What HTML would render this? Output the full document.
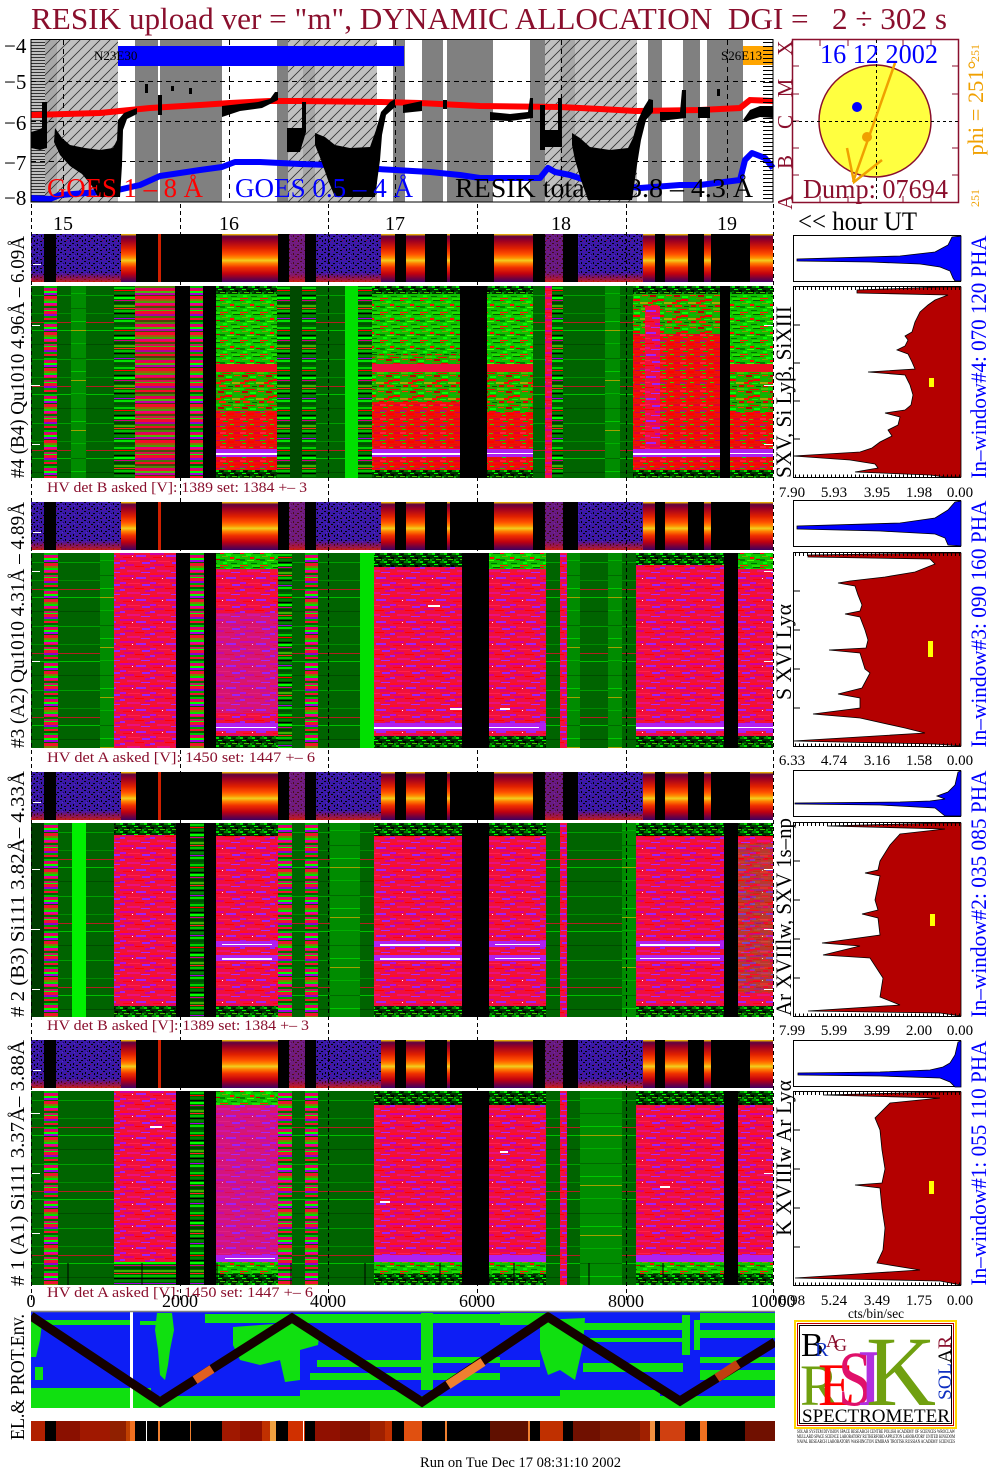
<!DOCTYPE html>
<html><head><meta charset="utf-8"><style>
html,body{margin:0;padding:0;background:#fff;}
svg{display:block;}
text{font-family:"Liberation Serif","DejaVu Serif",serif;}
</style></head><body>
<svg xmlns="http://www.w3.org/2000/svg" width="1004" height="1477" viewBox="0 0 1004 1477">
<defs>
<pattern id="hd" width="10" height="10" patternUnits="userSpaceOnUse"><path d="M0,10 L10,0 M-2,2 L2,-2 M8,12 L12,8" stroke="#333" stroke-width="0.8"/></pattern>
<pattern id="hh" width="4" height="3" patternUnits="userSpaceOnUse"><rect width="4" height="3" fill="#c0c0c0"/><rect width="4" height="1" fill="#333"/></pattern>
<pattern id="pn" width="12" height="9" patternUnits="userSpaceOnUse"><rect width="12" height="9" fill="#3a1aa8"/><rect x="0" y="0" width="2" height="1" fill="#000"/><rect x="5" y="1" width="1" height="2" fill="#000"/><rect x="9" y="2" width="2" height="1" fill="#000"/><rect x="2" y="3" width="1" height="1" fill="#5a20d8"/><rect x="7" y="4" width="2" height="1" fill="#000"/><rect x="1" y="5" width="1" height="2" fill="#000"/><rect x="10" y="6" width="1" height="2" fill="#000"/><rect x="4" y="7" width="2" height="1" fill="#000"/><rect x="8" y="8" width="1" height="1" fill="#700090"/><rect x="3" y="2" width="1" height="1" fill="#200060"/><rect x="6" y="6" width="1" height="1" fill="#900040"/></pattern>
<linearGradient id="po" x1="0" y1="0" x2="0" y2="1"><stop offset="0" stop-color="#ffd000"/><stop offset="0.05" stop-color="#600040"/><stop offset="0.15" stop-color="#a00020"/><stop offset="0.3" stop-color="#e02000"/><stop offset="0.42" stop-color="#ff5000"/><stop offset="0.5" stop-color="#ff9000"/><stop offset="0.55" stop-color="#f0d020"/><stop offset="0.61" stop-color="#ff8000"/><stop offset="0.7" stop-color="#f03000"/><stop offset="0.83" stop-color="#c00010"/><stop offset="0.93" stop-color="#700040"/><stop offset="1" stop-color="#400060"/></linearGradient>
<linearGradient id="pnb" x1="0" y1="0" x2="0" y2="1"><stop offset="0" stop-color="#c00030" stop-opacity="0"/><stop offset="1" stop-color="#e02000" stop-opacity="0.85"/></linearGradient>
<pattern id="pdg" width="14" height="64" patternUnits="userSpaceOnUse"><rect width="14" height="64" fill="#006400"/><rect y="9" width="14" height="1" fill="#00a000"/><rect y="27" width="14" height="1" fill="#008c00"/><rect y="36" width="14" height="1" fill="#b02020"/><rect y="44" width="14" height="1" fill="#00c000"/><rect y="58" width="14" height="1" fill="#004c00"/></pattern>
<pattern id="pg" width="14" height="50" patternUnits="userSpaceOnUse"><rect width="14" height="50" fill="#008c00"/><rect y="7" width="14" height="1" fill="#00b000"/><rect y="22" width="14" height="1" fill="#006a00"/><rect y="35" width="14" height="1" fill="#00c800"/><rect y="44" width="14" height="1" fill="#a0a000"/></pattern>
<pattern id="pmg" width="14" height="40" patternUnits="userSpaceOnUse"><rect width="14" height="40" fill="#006000"/><rect y="1" width="14" height="2" fill="#00d000"/><rect y="4" width="14" height="1" fill="#ff0000"/><rect y="6" width="14" height="2" fill="#008000"/><rect y="9" width="14" height="1" fill="#000"/><rect y="11" width="14" height="2" fill="#00ff00"/><rect y="14" width="14" height="1" fill="#d00080"/><rect y="16" width="14" height="2" fill="#004000"/><rect y="19" width="14" height="2" fill="#40b000"/><rect y="22" width="14" height="1" fill="#ff2020"/><rect y="24" width="14" height="2" fill="#00c000"/><rect y="27" width="14" height="1" fill="#000"/><rect y="29" width="14" height="2" fill="#008800"/><rect y="32" width="14" height="1" fill="#a000e0"/><rect y="34" width="14" height="2" fill="#00e000"/><rect y="37" width="14" height="2" fill="#005000"/></pattern>
<pattern id="pmx" width="14" height="36" patternUnits="userSpaceOnUse"><rect width="14" height="36" fill="#f01030"/><rect y="0" width="14" height="2" fill="#00c000"/><rect y="2" width="14" height="2" fill="#d00080"/><rect y="5" width="14" height="2" fill="#00ff00"/><rect y="7" width="14" height="2" fill="#a000e0"/><rect y="9" width="14" height="1" fill="#006000"/><rect y="13" width="14" height="2" fill="#808000"/><rect y="15" width="14" height="2" fill="#00e000"/><rect y="17" width="14" height="2" fill="#e000a0"/><rect y="20" width="14" height="2" fill="#007000"/><rect y="22" width="14" height="2" fill="#c02060"/><rect y="24" width="14" height="1" fill="#00ff00"/><rect y="28" width="14" height="2" fill="#9000d0"/><rect y="30" width="14" height="2" fill="#00a000"/><rect y="34" width="14" height="2" fill="#006000"/></pattern>
<pattern id="prm" width="30" height="22" patternUnits="userSpaceOnUse"><rect width="30" height="22" fill="#f0103c"/><rect x="0" y="0" width="14" height="2" fill="#d000a0"/><rect x="16" y="2" width="10" height="2" fill="#a020f8"/><rect x="3" y="4" width="8" height="1" fill="#ff0010"/><rect x="20" y="5" width="10" height="2" fill="#e00070"/><rect x="0" y="7" width="6" height="2" fill="#b010e0"/><rect x="8" y="8" width="12" height="1" fill="#ff2050"/><rect x="22" y="9" width="8" height="2" fill="#9820ff"/><rect x="4" y="11" width="10" height="2" fill="#d00090"/><rect x="15" y="13" width="9" height="1" fill="#ff0000"/><rect x="0" y="14" width="5" height="2" fill="#a020f0"/><rect x="25" y="15" width="5" height="2" fill="#c000b0"/><rect x="7" y="17" width="13" height="2" fill="#e81080"/><rect x="21" y="19" width="9" height="1" fill="#a828ff"/><rect x="0" y="20" width="8" height="2" fill="#ff1020"/><rect x="12" y="3" width="1" height="1" fill="#fff"/></pattern>
<pattern id="pgr" width="24" height="16" patternUnits="userSpaceOnUse"><rect width="24" height="16" fill="#20a800"/><rect x="0" y="0" width="5" height="2" fill="#ff1000"/><rect x="8" y="1" width="6" height="1" fill="#00ff00"/><rect x="16" y="0" width="8" height="2" fill="#b0a000"/><rect x="3" y="3" width="7" height="2" fill="#ff2000"/><rect x="12" y="4" width="5" height="1" fill="#006000"/><rect x="19" y="3" width="5" height="2" fill="#e00000"/><rect x="0" y="6" width="4" height="2" fill="#00e000"/><rect x="6" y="7" width="9" height="1" fill="#ff0000"/><rect x="17" y="6" width="7" height="2" fill="#50c000"/><rect x="2" y="9" width="6" height="2" fill="#c00000"/><rect x="10" y="10" width="6" height="2" fill="#00ff00"/><rect x="18" y="9" width="6" height="1" fill="#ff3000"/><rect x="0" y="12" width="8" height="1" fill="#807000"/><rect x="9" y="13" width="7" height="2" fill="#ff0000"/><rect x="18" y="12" width="6" height="2" fill="#00c000"/><rect x="4" y="14" width="5" height="2" fill="#e01000"/></pattern>
<pattern id="pgg" width="20" height="14" patternUnits="userSpaceOnUse"><rect width="20" height="14" fill="#10c000"/><rect x="0" y="0" width="4" height="1" fill="#ff0000"/><rect x="6" y="1" width="5" height="2" fill="#00ff00"/><rect x="13" y="0" width="7" height="1" fill="#006000"/><rect x="2" y="3" width="6" height="1" fill="#80a000"/><rect x="10" y="4" width="4" height="2" fill="#ff1000"/><rect x="15" y="3" width="5" height="2" fill="#00e000"/><rect x="0" y="6" width="5" height="2" fill="#008000"/><rect x="7" y="7" width="7" height="1" fill="#40ff00"/><rect x="16" y="6" width="4" height="1" fill="#c00000"/><rect x="3" y="9" width="4" height="2" fill="#00ff00"/><rect x="11" y="10" width="6" height="1" fill="#007000"/><rect x="0" y="12" width="8" height="1" fill="#ff2000"/><rect x="12" y="12" width="8" height="2" fill="#20e000"/></pattern>
<pattern id="prr" width="20" height="14" patternUnits="userSpaceOnUse"><rect width="20" height="14" fill="#f01008"/><rect x="0" y="0" width="5" height="1" fill="#20c000"/><rect x="8" y="1" width="6" height="2" fill="#ff0000"/><rect x="15" y="0" width="5" height="1" fill="#c00060"/><rect x="2" y="3" width="4" height="1" fill="#00e000"/><rect x="10" y="4" width="7" height="1" fill="#d02000"/><rect x="0" y="6" width="6" height="2" fill="#ff2040"/><rect x="9" y="7" width="4" height="1" fill="#60b000"/><rect x="14" y="6" width="6" height="2" fill="#e00030"/><rect x="3" y="9" width="5" height="1" fill="#00c000"/><rect x="12" y="10" width="8" height="1" fill="#ff0000"/><rect x="0" y="12" width="7" height="2" fill="#c01060"/><rect x="10" y="12" width="4" height="1" fill="#30d000"/></pattern>
<pattern id="pgk" width="12" height="8" patternUnits="userSpaceOnUse"><rect width="12" height="8" fill="#003000"/><rect x="0" y="0" width="3" height="2" fill="#00e000"/><rect x="5" y="1" width="2" height="1" fill="#000"/><rect x="8" y="0" width="4" height="2" fill="#008000"/><rect x="2" y="3" width="4" height="1" fill="#00ff00"/><rect x="7" y="4" width="3" height="2" fill="#000"/><rect x="0" y="5" width="2" height="2" fill="#006000"/><rect x="4" y="6" width="5" height="1" fill="#40c000"/><rect x="10" y="6" width="2" height="2" fill="#00a000"/></pattern>
<clipPath id="elc"><rect x="31" y="1312" width="744" height="96"/></clipPath>

<g id="strip">
<rect x="31" y="0" width="742" height="48" fill="#000"/>
<rect x="31" y="0" width="13" height="48" fill="url(#pn)"/>
<rect x="56" y="0" width="65" height="48" fill="url(#pn)"/>
<rect x="289" y="0" width="16" height="48" fill="url(#pn)"/>
<rect x="316" y="0" width="65" height="48" fill="url(#pn)"/>
<rect x="545" y="0" width="18" height="48" fill="url(#pn)"/>
<rect x="578" y="0" width="65" height="48" fill="url(#pn)"/>
<rect x="289" y="0" width="16" height="48" fill="#c02040" opacity="0.4"/>
<rect x="545" y="0" width="18" height="48" fill="#c02040" opacity="0.35"/>
<rect x="31" y="38" width="13" height="10" fill="url(#pnb)"/>
<rect x="56" y="38" width="65" height="10" fill="url(#pnb)"/>
<rect x="289" y="38" width="16" height="10" fill="url(#pnb)"/>
<rect x="316" y="38" width="65" height="10" fill="url(#pnb)"/>
<rect x="545" y="38" width="18" height="10" fill="url(#pnb)"/>
<rect x="578" y="38" width="65" height="10" fill="url(#pnb)"/>
<rect x="121" y="0" width="15" height="48" fill="url(#po)"/>
<rect x="158" y="0" width="3" height="48" fill="#d02000"/>
<rect x="222" y="0" width="56" height="48" fill="url(#po)"/>
<rect x="381" y="0" width="14" height="48" fill="url(#po)"/>
<rect x="406" y="0" width="19" height="48" fill="url(#po)"/>
<rect x="447" y="0" width="3" height="48" fill="url(#po)"/>
<rect x="494" y="0" width="39" height="48" fill="url(#po)"/>
<rect x="643" y="0" width="12" height="48" fill="url(#po)"/>
<rect x="665" y="0" width="23" height="48" fill="url(#po)"/>
<rect x="704" y="0" width="7" height="48" fill="url(#po)"/>
<rect x="750" y="0" width="23" height="48" fill="url(#po)"/>
<rect x="33" y="30" width="8" height="1" fill="#fff"/>
</g>
</defs>

<rect width="1004" height="1477" fill="#fff"/>

<!-- TITLE -->
<text x="31" y="29" font-size="31" fill="#8a0f2d" textLength="916" lengthAdjust="spacingAndGlyphs" style="white-space:pre">RESIK upload ver = "m", DYNAMIC ALLOCATION  DGI =   2 ÷ 302 s</text>

<!-- GOES PANEL -->
<g>
<rect x="31" y="40" width="14" height="162" fill="url(#hh)"/>
<rect x="45" y="40" width="12" height="162" fill="#a8a8a8"/>
<rect x="57" y="40" width="61" height="162" fill="#c0c0c0"/>
<rect x="135" y="40" width="23" height="162" fill="#808080"/>
<rect x="160" y="40" width="62" height="162" fill="#808080"/>
<rect x="277" y="40" width="11" height="162" fill="#808080"/>
<rect x="288" y="40" width="15" height="162" fill="#c0c0c0"/>
<rect x="303" y="40" width="12" height="162" fill="#a8a8a8"/>
<rect x="315" y="40" width="62" height="162" fill="#c0c0c0"/>
<rect x="393" y="40" width="12" height="162" fill="#808080"/>
<rect x="422" y="40" width="21" height="162" fill="#808080"/>
<rect x="447" y="40" width="46" height="162" fill="#808080"/>
<rect x="530" y="40" width="15" height="162" fill="#808080"/>
<rect x="545" y="40" width="15" height="162" fill="#c0c0c0"/>
<rect x="560" y="40" width="15" height="162" fill="#a8a8a8"/>
<rect x="575" y="40" width="62" height="162" fill="#c0c0c0"/>
<rect x="648" y="40" width="14" height="162" fill="#808080"/>
<rect x="683" y="40" width="17" height="162" fill="#808080"/>
<rect x="707" y="40" width="36" height="162" fill="#808080"/>
<rect x="45" y="40" width="73" height="162" fill="url(#hd)"/>
<rect x="288" y="40" width="89" height="162" fill="url(#hd)"/>
<rect x="545" y="40" width="92" height="162" fill="url(#hd)"/>
<g stroke="#000" stroke-width="1" stroke-dasharray="5,4" fill="none">
<line x1="31" y1="81.5" x2="773" y2="81.5"/><line x1="31" y1="121.5" x2="773" y2="121.5"/><line x1="31" y1="161.5" x2="773" y2="161.5"/>
<line x1="63.5" y1="40" x2="63.5" y2="202"/><line x1="229.5" y1="40" x2="229.5" y2="202"/><line x1="395.5" y1="40" x2="395.5" y2="202"/><line x1="561.5" y1="40" x2="561.5" y2="202"/><line x1="727.5" y1="40" x2="727.5" y2="202"/>
</g>
<rect x="118" y="46" width="286" height="20" fill="#0000ff"/>
<text x="94" y="60" font-size="13" fill="#000">N23E30</text>
<rect x="743" y="46" width="30" height="19" fill="#ffa500"/>
<text x="721" y="60" font-size="13" fill="#000">S26E13</text>
<polyline fill="none" stroke="#ff0000" stroke-width="6" points="31,115 100,113 150,108 200,105 230,103 270,101 300,101 380,102 420,103 480,106 560,107 600,109 637,111 700,110 740,108 750,100 773,101"/>
<polyline fill="none" stroke="#0000ff" stroke-width="6" stroke-linejoin="round" points="31,198 50,199 60,195 100,192 118,190 140,185 160,176 200,170 222,167 235,162 260,162 300,164 330,165 360,168 395,170 430,172 460,175 480,178 540,178 548,168 555,172 570,175 600,185 620,185 640,188 680,185 700,185 740,180 745,160 752,153 765,158 773,168"/>
<g fill="#000">
<polygon points="31,132 38,130 42,128 42,102 47,102 47,148 40,150 31,148"/>
<polygon points="55,128 62,138 70,145 85,148 100,150 113,148 117,140 118,120 124,113 137,108 137,114 127,119 123,130 122,165 120,197 98,197 92,186 82,174 70,166 60,155 54,142"/>
<rect x="145" y="84" width="3" height="9"/><rect x="171" y="86" width="3" height="5"/><rect x="189" y="88" width="3" height="6"/><rect x="158" y="95" width="4" height="20"/>
<polygon points="222,106 240,104 258,102 270,99 275,92 278,92 278,100 262,108 240,111 222,117"/>
<polygon points="287,128 302,128 302,102 306,102 306,132 300,152 287,152"/>
<polygon points="315,133 325,137 335,145 350,148 370,147 376,130 381,112 390,102 395,99 395,107 386,115 382,135 380,160 375,197 335,197 328,180 321,160 315,145"/>
<polygon points="403,105 422,101 422,111 403,113"/><rect x="443" y="100" width="4" height="9"/>
<polygon points="490,112 510,114 528,112 530,98 533,98 533,118 510,121 490,120"/>
<rect x="540" y="105" width="5" height="45"/>
<polygon points="545,130 558,130 558,98 562,98 562,147 545,147"/>
<polygon points="572,133 580,138 590,147 610,150 628,148 633,138 638,120 644,107 649,99 653,100 653,112 646,120 641,140 637,165 632,200 588,200 581,180 575,160 572,145"/>
<polygon points="660,112 680,112 682,90 686,90 686,118 660,121"/>
<rect x="698" y="107" width="12" height="11"/><rect x="717" y="89" width="3" height="7"/>
<polygon points="743,120 750,110 760,106 773,106 773,118 760,117 750,120 746,122"/>
</g>
<text x="47" y="197" font-size="27" fill="#ff0000" textLength="156" lengthAdjust="spacingAndGlyphs">GOES 1 – 8 Å</text>
<text x="235" y="197" font-size="27" fill="#0000ff" textLength="178" lengthAdjust="spacingAndGlyphs">GOES 0.5 – 4 Å</text>
<text x="455" y="197" font-size="27" fill="#000" textLength="298" lengthAdjust="spacingAndGlyphs">RESIK total in 3.8 – 4.3 Å</text>
<line x1="768" y1="42" x2="768" y2="201" stroke="#000" stroke-width="10" stroke-dasharray="1,3"/>
<rect x="31" y="39.5" width="742" height="162.5" fill="none" stroke="#000" stroke-width="1"/>
<g font-size="21" fill="#000">
<text x="4" y="53">−4</text><text x="4" y="89">−5</text><text x="4" y="130">−6</text><text x="4" y="170">−7</text><text x="4" y="205">−8</text>
</g>
<g font-size="21" fill="#8a0f2d">
<text transform="translate(792,48) rotate(-90)" text-anchor="middle">X</text>
<text transform="translate(792,88) rotate(-90)" text-anchor="middle">M</text>
<text transform="translate(792,122) rotate(-90)" text-anchor="middle">C</text>
<text transform="translate(792,162) rotate(-90)" text-anchor="middle">B</text>
<text transform="translate(792,202) rotate(-90)" text-anchor="middle">A</text>
</g>
</g>

<g font-size="20" fill="#000" text-anchor="middle">
<text x="63" y="230">15</text><text x="229" y="230">16</text><text x="395" y="230">17</text><text x="561" y="230">18</text><text x="727" y="230">19</text>
</g>
<text x="798" y="230" font-size="26" fill="#000" textLength="119" lengthAdjust="spacingAndGlyphs">&lt;&lt; hour UT</text>

<!-- SUN PANEL -->
<rect x="792.5" y="39.5" width="166" height="163" fill="#fff" stroke="#8a0f2d" stroke-width="1.5"/>
<g stroke="#8a0f2d" stroke-width="1">
<line x1="793" y1="66" x2="799" y2="66"/><line x1="793" y1="94" x2="799" y2="94"/><line x1="793" y1="121" x2="799" y2="121"/><line x1="793" y1="148" x2="799" y2="148"/><line x1="793" y1="175" x2="799" y2="175"/>
<line x1="952" y1="66" x2="958" y2="66"/><line x1="952" y1="94" x2="958" y2="94"/><line x1="952" y1="148" x2="958" y2="148"/><line x1="952" y1="175" x2="958" y2="175"/>
<line x1="820" y1="40" x2="820" y2="46"/><line x1="848" y1="40" x2="848" y2="46"/><line x1="903" y1="40" x2="903" y2="46"/><line x1="931" y1="40" x2="931" y2="46"/>
<line x1="820" y1="196" x2="820" y2="202"/><line x1="848" y1="196" x2="848" y2="202"/><line x1="903" y1="196" x2="903" y2="202"/><line x1="931" y1="196" x2="931" y2="202"/>
</g>
<circle cx="875" cy="121" r="56" fill="#ffff40" stroke="#8a0f2d" stroke-width="1.5"/>
<g stroke="#000" stroke-width="1" stroke-dasharray="3,3"><line x1="793" y1="121.5" x2="958" y2="121.5"/><line x1="876.5" y1="40" x2="876.5" y2="202"/></g>
<circle cx="857" cy="107" r="5" fill="#0000ff"/>
<circle cx="867" cy="137" r="5" fill="#f0a000"/>
<g stroke="#f0a000" stroke-width="2.5" fill="none"><line x1="895" y1="63" x2="853" y2="182"/><polyline points="847,148 854,182 882,160"/></g>
<text x="820" y="63" font-size="27" fill="#0000ff" textLength="118" lengthAdjust="spacingAndGlyphs">16 12 2002</text>
<text x="803" y="198" font-size="27" fill="#8a0f2d" textLength="145" lengthAdjust="spacingAndGlyphs">Dump: 07694</text>
<text transform="translate(983,108) rotate(-90)" text-anchor="middle" font-size="22" fill="#f0a000" textLength="95" lengthAdjust="spacingAndGlyphs">phi = 251°</text>
<text transform="translate(979,53) rotate(-90)" text-anchor="middle" font-size="12" fill="#f0a000">251</text>
<text transform="translate(979,198) rotate(-90)" text-anchor="middle" font-size="12" fill="#f0a000">251</text>

<!-- STRIPS -->
<use href="#strip" y="234"/>
<use href="#strip" y="502"/>
<use href="#strip" y="772"/>
<use href="#strip" y="1040"/>

<!-- GROUP 4 MAIN -->
<g transform="translate(0,286)">
<rect x="31" y="0" width="742" height="192" fill="#000"/>
<rect x="31" width="13" height="192" fill="url(#pdg)"/>
<rect x="44" width="13" height="192" fill="url(#pmx)"/>
<rect x="57" width="14" height="192" fill="url(#pdg)"/>
<rect x="71" width="15" height="192" fill="url(#pg)"/>
<rect x="86" width="28" height="192" fill="url(#pdg)"/>
<rect x="114" width="21" height="192" fill="url(#pmg)"/>
<rect x="135" width="40" height="192" fill="url(#pmx)"/>
<rect x="135" width="40" height="192" fill="#ff0020" opacity="0.3"/>
<rect x="190" width="13" height="192" fill="url(#pmx)"/>
<rect x="277" width="13" height="192" fill="url(#pmg)"/>
<rect x="290" width="12" height="192" fill="#004a00"/>
<rect x="302" width="14" height="192" fill="url(#pmg)"/>
<rect x="316" width="29" height="192" fill="url(#pdg)"/>
<rect x="345" width="13" height="192" fill="#00e000"/>
<rect x="358" width="14" height="192" fill="url(#pmg)"/>
<rect x="533" width="12" height="192" fill="url(#pdg)"/>
<rect x="545" width="7" height="192" fill="url(#prm)"/>
<rect x="552" width="11" height="192" fill="url(#pmg)"/>
<rect x="563" width="70" height="192" fill="url(#pdg)"/>
<rect x="605" width="15" height="192" fill="url(#pg)"/>
<g>
<rect x="216" y="0" width="61" height="8" fill="url(#pgk)"/><rect x="216" y="8" width="61" height="70" fill="url(#pgg)"/><rect x="216" y="78" width="61" height="8" fill="#f01020"/><rect x="216" y="86" width="61" height="39" fill="url(#pgr)"/><rect x="216" y="125" width="61" height="38" fill="url(#prr)"/><rect x="216" y="163" width="61" height="8" fill="#b020f0"/><rect x="216" y="171" width="61" height="13" fill="url(#prr)"/><rect x="216" y="184" width="61" height="8" fill="url(#pgk)"/>
<rect x="372" y="0" width="88" height="8" fill="url(#pgk)"/><rect x="372" y="8" width="88" height="60" fill="url(#pgg)"/><rect x="372" y="68" width="88" height="10" fill="url(#pgr)"/><rect x="372" y="78" width="88" height="8" fill="#f01040"/><rect x="372" y="86" width="88" height="30" fill="url(#pgr)"/><rect x="372" y="116" width="88" height="47" fill="url(#prr)"/><rect x="372" y="163" width="88" height="8" fill="#b020f0"/><rect x="372" y="171" width="88" height="13" fill="url(#prr)"/><rect x="372" y="184" width="88" height="8" fill="url(#pgk)"/>
<rect x="487" y="0" width="46" height="8" fill="url(#pgk)"/><rect x="487" y="8" width="46" height="70" fill="url(#pgg)"/><rect x="487" y="78" width="46" height="8" fill="#f01020"/><rect x="487" y="86" width="46" height="40" fill="url(#pgr)"/><rect x="487" y="126" width="46" height="37" fill="url(#prr)"/><rect x="487" y="163" width="46" height="8" fill="#b020f0"/><rect x="487" y="171" width="46" height="13" fill="url(#prr)"/><rect x="487" y="184" width="46" height="8" fill="url(#pgk)"/>
<rect x="633" y="0" width="87" height="8" fill="url(#pgk)"/><rect x="633" y="8" width="87" height="40" fill="url(#pgr)"/><rect x="633" y="48" width="87" height="115" fill="url(#prr)"/><rect x="645" y="20" width="15" height="143" fill="url(#prm)"/><rect x="633" y="163" width="87" height="8" fill="#b020f0"/><rect x="633" y="171" width="87" height="13" fill="url(#prr)"/><rect x="633" y="184" width="87" height="8" fill="url(#pgk)"/>
<rect x="730" y="0" width="43" height="8" fill="url(#pgk)"/><rect x="730" y="8" width="43" height="70" fill="url(#pgg)"/><rect x="730" y="78" width="43" height="8" fill="#f01020"/><rect x="730" y="86" width="43" height="40" fill="url(#pgr)"/><rect x="730" y="126" width="43" height="37" fill="url(#prr)"/><rect x="730" y="163" width="43" height="8" fill="#b020f0"/><rect x="730" y="171" width="43" height="13" fill="url(#prr)"/><rect x="730" y="184" width="43" height="8" fill="url(#pgk)"/>
</g>
<g fill="#fff"><rect x="216" y="167" width="61" height="2"/><rect x="372" y="167" width="88" height="2"/><rect x="487" y="167" width="46" height="1"/><rect x="633" y="167" width="87" height="2"/><rect x="730" y="167" width="43" height="1"/>
<rect x="31" y="39" width="9" height="1"/><rect x="31" y="99" width="9" height="1"/><rect x="31" y="158" width="9" height="1"/><rect x="764" y="39" width="9" height="1"/><rect x="764" y="99" width="9" height="1"/><rect x="764" y="158" width="9" height="1"/></g>
</g>

<!-- GROUP 3 MAIN -->
<g transform="translate(0,553)">
<rect x="31" y="0" width="742" height="195" fill="#000"/>
<rect x="31" width="13" height="195" fill="url(#pdg)"/>
<rect x="44" width="14" height="195" fill="url(#pmx)"/>
<rect x="58" width="42" height="195" fill="url(#pdg)"/>
<rect x="100" width="14" height="195" fill="url(#pg)"/>
<rect x="114" width="62" height="195" fill="url(#prm)"/>
<rect x="190" width="14" height="195" fill="url(#pmx)"/>
<rect x="216" width="62" height="195" fill="url(#prm)"/>
<rect x="278" width="14" height="195" fill="url(#pmg)"/>
<rect x="292" width="13" height="195" fill="url(#pdg)"/>
<rect x="305" width="13" height="195" fill="url(#pmx)"/>
<rect x="318" width="42" height="195" fill="url(#pdg)"/>
<rect x="360" width="14" height="195" fill="#00e000"/>
<rect x="374" width="88" height="195" fill="url(#prm)"/>
<rect x="489" width="57" height="195" fill="url(#prm)"/>
<rect x="546" width="14" height="195" fill="url(#pdg)"/>
<rect x="560" width="7" height="195" fill="url(#prm)"/>
<rect x="567" width="13" height="195" fill="url(#pg)"/>
<rect x="580" width="28" height="195" fill="url(#pdg)"/>
<rect x="608" width="14" height="195" fill="url(#pg)"/>
<rect x="622" width="14" height="195" fill="url(#pdg)"/>
<rect x="636" width="88" height="195" fill="url(#prm)"/>
<rect x="738" width="35" height="195" fill="url(#prm)"/>
<g>
<rect x="216" y="0" width="62" height="16" fill="url(#pgg)"/><rect x="374" y="0" width="88" height="14" fill="url(#pgk)"/><rect x="489" y="0" width="57" height="16" fill="url(#pgg)"/><rect x="636" y="0" width="88" height="12" fill="url(#pgk)"/><rect x="738" y="0" width="35" height="16" fill="url(#pgg)"/>
<rect x="216" y="183" width="62" height="12" fill="url(#pgk)"/><rect x="374" y="183" width="88" height="12" fill="url(#pgk)"/><rect x="489" y="183" width="57" height="12" fill="url(#pgk)"/><rect x="636" y="183" width="88" height="12" fill="url(#pgk)"/><rect x="738" y="183" width="35" height="12" fill="url(#pgk)"/>
<rect x="216" y="60" width="62" height="100" fill="#a020f0" opacity="0.3"/>
<rect x="216" y="170" width="62" height="8" fill="#b020f0"/><rect x="374" y="170" width="88" height="8" fill="#b020f0"/><rect x="489" y="170" width="57" height="8" fill="#b020f0"/><rect x="636" y="170" width="88" height="8" fill="#b020f0"/><rect x="738" y="170" width="35" height="8" fill="#b020f0"/>
</g>
<g fill="#fff"><rect x="216" y="174" width="60" height="1"/><rect x="374" y="174" width="88" height="2"/><rect x="489" y="174" width="50" height="1"/><rect x="636" y="174" width="88" height="2"/><rect x="738" y="174" width="35" height="1"/><rect x="428" y="52" width="12" height="2"/><rect x="500" y="155" width="10" height="2"/><rect x="450" y="155" width="12" height="2"/>
<rect x="31" y="18" width="9" height="1"/><rect x="31" y="108" width="9" height="1"/><rect x="31" y="197" width="9" height="1"/><rect x="764" y="108" width="9" height="1"/><rect x="764" y="18" width="9" height="1"/></g>
</g>

<!-- GROUP 2 MAIN -->
<g transform="translate(0,823)">
<rect x="31" y="0" width="742" height="194" fill="#000"/>
<rect x="31" width="13" height="194" fill="#003c00"/>
<rect x="44" width="14" height="194" fill="url(#pmx)"/>
<rect x="58" width="14" height="194" fill="url(#pdg)"/>
<rect x="72" width="14" height="194" fill="#00f000"/>
<rect x="86" width="28" height="194" fill="url(#pdg)"/>
<rect x="114" width="62" height="194" fill="url(#prm)"/>
<rect x="190" width="14" height="194" fill="url(#pmg)"/>
<rect x="216" width="62" height="194" fill="url(#prm)"/>
<rect x="278" width="14" height="194" fill="url(#pmx)"/>
<rect x="292" width="13" height="194" fill="url(#pdg)"/>
<rect x="305" width="13" height="194" fill="url(#pmx)"/>
<rect x="318" width="12" height="194" fill="url(#pdg)"/>
<rect x="330" width="30" height="194" fill="url(#pg)"/>
<rect x="360" width="14" height="194" fill="url(#pdg)"/>
<rect x="374" width="88" height="194" fill="url(#prm)"/>
<rect x="489" width="57" height="194" fill="url(#prm)"/>
<rect x="546" width="14" height="194" fill="url(#pdg)"/>
<rect x="560" width="7" height="194" fill="url(#prm)"/>
<rect x="567" width="55" height="194" fill="url(#pdg)"/>
<rect x="622" width="14" height="194" fill="url(#pg)"/>
<rect x="636" width="88" height="194" fill="url(#prm)"/>
<rect x="738" width="35" height="194" fill="url(#prm)"/>
<g>
<rect x="114" y="0" width="62" height="12" fill="url(#pgk)"/><rect x="216" y="0" width="62" height="13" fill="url(#pgk)"/><rect x="374" y="0" width="88" height="13" fill="url(#pgk)"/><rect x="489" y="0" width="57" height="13" fill="url(#pgk)"/><rect x="636" y="0" width="88" height="13" fill="url(#pgk)"/><rect x="738" y="0" width="35" height="13" fill="url(#pgk)"/>
<rect x="114" y="183" width="62" height="11" fill="url(#pgk)"/><rect x="216" y="183" width="62" height="11" fill="url(#pgk)"/><rect x="374" y="183" width="88" height="11" fill="url(#pgk)"/><rect x="489" y="183" width="57" height="11" fill="url(#pgk)"/><rect x="636" y="183" width="88" height="11" fill="url(#pgk)"/><rect x="738" y="183" width="35" height="11" fill="url(#pgk)"/>
<rect x="216" y="118" width="62" height="6" fill="#b020f0"/><rect x="374" y="118" width="88" height="6" fill="#b020f0"/><rect x="489" y="118" width="57" height="6" fill="#b020f0"/><rect x="636" y="118" width="88" height="6" fill="#b020f0"/>
<rect x="216" y="132" width="62" height="6" fill="#b020f0"/><rect x="374" y="132" width="88" height="6" fill="#b020f0"/><rect x="489" y="132" width="57" height="6" fill="#b020f0"/><rect x="636" y="132" width="88" height="6" fill="#b020f0"/>
<rect x="738" y="20" width="35" height="150" fill="url(#pgr)" opacity="0.25"/>
</g>
<g fill="#fff"><rect x="222" y="121" width="50" height="1"/><rect x="380" y="121" width="80" height="2"/><rect x="495" y="121" width="45" height="1"/><rect x="640" y="121" width="80" height="2"/><rect x="222" y="135" width="50" height="2"/><rect x="380" y="135" width="80" height="2"/><rect x="495" y="135" width="45" height="1"/><rect x="640" y="135" width="80" height="1"/>
<rect x="31" y="46" width="9" height="1"/><rect x="31" y="106" width="9" height="1"/><rect x="31" y="166" width="9" height="1"/><rect x="764" y="46" width="9" height="1"/><rect x="764" y="106" width="9" height="1"/><rect x="764" y="166" width="9" height="1"/></g>
</g>

<!-- GROUP 1 MAIN -->
<g transform="translate(0,1091)">
<rect x="31" y="0" width="742" height="194" fill="#000"/>
<rect x="31" width="13" height="194" fill="url(#pdg)"/>
<rect x="44" width="14" height="194" fill="url(#pmx)"/>
<rect x="58" width="56" height="194" fill="url(#pdg)"/>
<rect x="114" width="62" height="194" fill="url(#prm)"/>
<rect x="190" width="14" height="194" fill="url(#pmg)"/>
<rect x="216" width="62" height="194" fill="url(#prm)"/>
<rect x="216" width="62" height="194" fill="#a020f0" opacity="0.35"/>
<rect x="278" width="14" height="194" fill="url(#pmx)"/>
<rect x="292" width="13" height="194" fill="url(#pdg)"/>
<rect x="305" width="13" height="194" fill="url(#pmx)"/>
<rect x="318" width="56" height="194" fill="url(#pdg)"/>
<rect x="374" width="88" height="194" fill="url(#prm)"/>
<rect x="489" width="57" height="194" fill="url(#prm)"/>
<rect x="546" width="14" height="194" fill="url(#pdg)"/>
<rect x="560" width="7" height="194" fill="url(#prm)"/>
<rect x="567" width="13" height="194" fill="url(#pdg)"/>
<rect x="580" width="42" height="194" fill="url(#pg)"/>
<rect x="622" width="14" height="194" fill="url(#pdg)"/>
<rect x="636" width="88" height="194" fill="url(#prm)"/>
<rect x="738" width="35" height="194" fill="url(#prm)"/>
<g>
<rect x="216" y="0" width="62" height="14" fill="url(#pgg)"/><rect x="374" y="0" width="88" height="14" fill="url(#pgk)"/><rect x="489" y="0" width="57" height="14" fill="url(#pgk)"/><rect x="636" y="0" width="88" height="14" fill="url(#pgk)"/><rect x="738" y="0" width="35" height="14" fill="url(#pgk)"/>
<rect x="216" y="164" width="62" height="7" fill="#b020f0"/><rect x="374" y="164" width="88" height="7" fill="#b020f0"/><rect x="489" y="164" width="57" height="7" fill="#b020f0"/><rect x="636" y="164" width="88" height="7" fill="#b020f0"/><rect x="738" y="164" width="35" height="7" fill="#b020f0"/>
<rect x="216" y="171" width="62" height="12" fill="url(#pgg)"/><rect x="216" y="183" width="62" height="11" fill="url(#pgk)"/>
<rect x="374" y="171" width="88" height="12" fill="url(#pgg)"/><rect x="374" y="183" width="88" height="11" fill="url(#pgk)"/>
<rect x="489" y="171" width="57" height="12" fill="url(#pgg)"/><rect x="489" y="183" width="57" height="11" fill="url(#pgk)"/>
<rect x="636" y="171" width="88" height="12" fill="url(#pgg)"/><rect x="636" y="183" width="88" height="11" fill="url(#pgk)"/>
<rect x="738" y="171" width="35" height="12" fill="url(#pgg)"/><rect x="738" y="183" width="35" height="11" fill="url(#pgk)"/>
<rect x="114" y="171" width="62" height="23" fill="url(#pmg)"/>
</g>
<g fill="#fff"><rect x="225" y="167" width="50" height="1"/><rect x="380" y="110" width="10" height="2"/><rect x="500" y="60" width="8" height="2"/><rect x="660" y="95" width="10" height="2"/><rect x="150" y="35" width="12" height="2"/>
<rect x="31" y="22" width="9" height="1"/><rect x="31" y="82" width="9" height="1"/><rect x="31" y="142" width="9" height="1"/><rect x="764" y="82" width="9" height="1"/></g>
<g stroke="#000" stroke-width="1"><line x1="68" y1="172" x2="68" y2="194"/><line x1="142" y1="172" x2="142" y2="194"/><line x1="217" y1="172" x2="217" y2="194"/><line x1="291" y1="172" x2="291" y2="194"/><line x1="365" y1="172" x2="365" y2="194"/><line x1="440" y1="172" x2="440" y2="194"/><line x1="514" y1="172" x2="514" y2="194"/><line x1="589" y1="172" x2="589" y2="194"/><line x1="663" y1="172" x2="663" y2="194"/><line x1="737" y1="172" x2="737" y2="194"/></g>
</g>

<g stroke="#000" stroke-width="1" stroke-dasharray="4,3">
<line x1="31.5" y1="204" x2="31.5" y2="1300"/><line x1="180.5" y1="204" x2="180.5" y2="1300"/><line x1="328.5" y1="204" x2="328.5" y2="1300"/><line x1="477.5" y1="204" x2="477.5" y2="1300"/><line x1="626.5" y1="204" x2="626.5" y2="1300"/><line x1="773.5" y1="204" x2="773.5" y2="1300"/>
</g>

<g font-size="15" fill="#8a0f2d" style="white-space:pre">
<text x="47" y="492" textLength="260" lengthAdjust="spacingAndGlyphs">HV det B asked [V]:  1389 set:  1384 +–    3</text>
<text x="47" y="762" textLength="268" lengthAdjust="spacingAndGlyphs">HV det A asked [V]:  1450 set:  1447 +–    6</text>
<text x="47" y="1030" textLength="262" lengthAdjust="spacingAndGlyphs">HV det B asked [V]:  1389 set:  1384 +–    3</text>
<text x="47" y="1297" textLength="266" lengthAdjust="spacingAndGlyphs">HV det A asked [V]:  1450 set:  1447 +–    6</text>
</g>

<g font-size="20" fill="#000" text-anchor="middle" style="white-space:pre">
<text transform="translate(24,357) rotate(-90)" textLength="242" lengthAdjust="spacingAndGlyphs">#4 (B4) Qu1010 4.96Å – 6.09Å</text>
<text transform="translate(24,625) rotate(-90)" textLength="246" lengthAdjust="spacingAndGlyphs">#3 (A2) Qu1010  4.31Å – 4.89Å</text>
<text transform="translate(24,894) rotate(-90)" textLength="246" lengthAdjust="spacingAndGlyphs"># 2 (B3) Si111  3.82Å– 4.33Å</text>
<text transform="translate(24,1163) rotate(-90)" textLength="246" lengthAdjust="spacingAndGlyphs"># 1 (A1) Si111  3.37Å– 3.88Å</text>
<text transform="translate(24,1377) rotate(-90)" textLength="126" lengthAdjust="spacingAndGlyphs">EL.&amp; PROT.Env.</text>
</g>

<!-- HISTOGRAMS -->
<g>
<rect x="793.5" y="235.5" width="167" height="46" fill="#fff" stroke="#000"/>
<polygon fill="#0000ff" stroke="#000" stroke-width="0.8" points="961,236 952,237 948,245 935,252 900,256 797,259 797,261 870,262 920,264 940,267 950,271 953,278 955,281 961,281"/>
<rect x="793.5" y="286.5" width="167" height="191" fill="#fff" stroke="#000"/>
<polygon fill="#b40000" stroke="#000" stroke-width="0.8" points="961,287 940,287 857,290 857,293 948,295 935,300 928,305 920,312 915,322 912,332 905,336 908,340 905,346 897,350 908,354 912,362 915,369 868,372 905,375 910,385 913,395 911,405 905,410 885,413 900,417 898,425 888,430 892,436 880,442 872,448 860,452 793,456 850,460 875,464 878,468 855,472 930,475 945,477 961,477"/>
<rect x="929" y="378" width="5" height="9" fill="#ffff00"/>
<rect x="793.5" y="500.5" width="167" height="46" fill="#fff" stroke="#000"/>
<polygon fill="#0000ff" stroke="#000" stroke-width="0.8" points="961,501 955,502 948,510 935,518 900,523 797,526 797,529 880,531 935,534 945,538 948,545 961,546"/>
<rect x="793.5" y="552.5" width="167" height="194" fill="#fff" stroke="#000"/>
<polygon fill="#b40000" stroke="#000" stroke-width="0.8" points="961,553 940,553 808,555 808,557 930,559 935,564 915,572 885,577 850,581 838,583 855,586 858,595 862,605 860,611 845,614 860,617 865,630 868,640 866,648 829,650 860,653 865,669 870,673 862,688 838,694 860,698 860,708 813,714 860,718 905,728 925,733 793,741 935,744 961,746"/>
<rect x="928" y="641" width="5" height="16" fill="#ffff00"/>
<rect x="793.5" y="770.5" width="167" height="46" fill="#fff" stroke="#000"/>
<polygon fill="#0000ff" stroke="#000" stroke-width="0.8" points="961,771 958,772 955,785 948,792 937,796 945,799 930,801 900,802 795,803 795,804 880,805 935,808 940,812 945,816 961,816"/>
<rect x="793.5" y="822.5" width="167" height="194" fill="#fff" stroke="#000"/>
<polygon fill="#b40000" stroke="#000" stroke-width="0.8" points="961,823 940,823 827,826 945,829 900,834 890,845 880,861 878,870 865,873 880,876 875,900 878,910 862,914 878,918 880,935 822,943 860,946 823,955 870,958 883,978 880,997 900,1005 808,1011 940,1013 961,1016"/>
<rect x="930" y="914" width="5" height="12" fill="#ffff00"/>
<rect x="793.5" y="1040.5" width="167" height="46" fill="#fff" stroke="#000"/>
<polygon fill="#0000ff" stroke="#000" stroke-width="0.8" points="961,1041 958,1042 955,1055 950,1063 943,1067 930,1070 880,1072 798,1073 798,1075 880,1076 940,1078 950,1082 955,1087 961,1087"/>
<rect x="793.5" y="1091.5" width="167" height="194" fill="#fff" stroke="#000"/>
<polygon fill="#b40000" stroke="#000" stroke-width="0.8" points="961,1092 940,1092 823,1095 940,1098 890,1103 875,1118 880,1130 882,1150 885,1169 882,1183 855,1185 880,1188 882,1208 885,1228 883,1250 877,1263 920,1270 795,1278 940,1281 961,1285"/>
<rect x="929" y="1181" width="5" height="13" fill="#ffff00"/>
<g stroke="#000" stroke-width="3" stroke-dasharray="1,3">
<line x1="795" y1="288.5" x2="960" y2="288.5"/><line x1="795" y1="476" x2="960" y2="476"/>
<line x1="795" y1="554.5" x2="960" y2="554.5"/><line x1="795" y1="745" x2="960" y2="745"/>
<line x1="795" y1="824.5" x2="960" y2="824.5"/><line x1="795" y1="1015" x2="960" y2="1015"/>
<line x1="795" y1="1093.5" x2="960" y2="1093.5"/><line x1="795" y1="1284" x2="960" y2="1284"/>
</g>
<g stroke="#000" stroke-width="1">
<line x1="794" y1="325" x2="800" y2="325"/><line x1="794" y1="363" x2="800" y2="363"/><line x1="794" y1="401" x2="800" y2="401"/><line x1="794" y1="439" x2="800" y2="439"/>
<line x1="794" y1="591" x2="800" y2="591"/><line x1="794" y1="630" x2="800" y2="630"/><line x1="794" y1="669" x2="800" y2="669"/><line x1="794" y1="708" x2="800" y2="708"/>
<line x1="794" y1="861" x2="800" y2="861"/><line x1="794" y1="900" x2="800" y2="900"/><line x1="794" y1="939" x2="800" y2="939"/><line x1="794" y1="978" x2="800" y2="978"/>
<line x1="794" y1="1130" x2="800" y2="1130"/><line x1="794" y1="1169" x2="800" y2="1169"/><line x1="794" y1="1208" x2="800" y2="1208"/><line x1="794" y1="1247" x2="800" y2="1247"/>
</g>
</g>

<g font-size="15" fill="#000" text-anchor="middle">
<text x="792" y="497">7.90</text><text x="834" y="497">5.93</text><text x="877" y="497">3.95</text><text x="919" y="497">1.98</text><text x="960" y="497">0.00</text>
<text x="792" y="765">6.33</text><text x="834" y="765">4.74</text><text x="877" y="765">3.16</text><text x="919" y="765">1.58</text><text x="960" y="765">0.00</text>
<text x="792" y="1035">7.99</text><text x="834" y="1035">5.99</text><text x="877" y="1035">3.99</text><text x="919" y="1035">2.00</text><text x="960" y="1035">0.00</text>
<text x="792" y="1305">6.98</text><text x="834" y="1305">5.24</text><text x="877" y="1305">3.49</text><text x="919" y="1305">1.75</text><text x="960" y="1305">0.00</text>
</g>
<text x="848" y="1318" font-size="14" fill="#000" textLength="56" lengthAdjust="spacingAndGlyphs">cts/bin/sec</text>

<g font-size="22" fill="#000" text-anchor="middle" style="white-space:pre">
<text transform="translate(791,392) rotate(-90)" textLength="172" lengthAdjust="spacingAndGlyphs">SXV, Si Lyβ, SiXIII</text>
<text transform="translate(791,652) rotate(-90)" textLength="96" lengthAdjust="spacingAndGlyphs">S XVI Lyα</text>
<text transform="translate(791,917) rotate(-90)" textLength="198" lengthAdjust="spacingAndGlyphs">Ar XVIIlw,  SXV 1s–np</text>
<text transform="translate(791,1158) rotate(-90)" textLength="156" lengthAdjust="spacingAndGlyphs">K XVIIIw  Ar Lyα</text>
</g>
<g font-size="22" fill="#0000ff" text-anchor="middle" style="white-space:pre">
<text transform="translate(986,357) rotate(-90)" textLength="243" lengthAdjust="spacingAndGlyphs">In–window#4:  070 120 PHA</text>
<text transform="translate(986,624) rotate(-90)" textLength="247" lengthAdjust="spacingAndGlyphs">In–window#3:  090 160 PHA</text>
<text transform="translate(986,894) rotate(-90)" textLength="247" lengthAdjust="spacingAndGlyphs">In–window#2:  035 085 PHA</text>
<text transform="translate(986,1163) rotate(-90)" textLength="245" lengthAdjust="spacingAndGlyphs">In–window#1:  055 110 PHA</text>
</g>

<g font-size="18" fill="#000" text-anchor="middle">
<text x="31" y="1307">0</text><text x="180" y="1307">2000</text><text x="328" y="1307">4000</text><text x="477" y="1307">6000</text><text x="626" y="1307">8000</text><text x="773" y="1307">10000</text>
</g>

<!-- EL & PROT panel -->
<g clip-path="url(#elc)">
<rect x="31" y="1312" width="744" height="96" fill="#0d1ef5"/>
<g fill="#10e010">
<rect x="31" y="1320" width="100" height="5"/>
<polygon points="31,1323 42,1323 40,1340 36,1357 31,1357"/>
<rect x="35" y="1367" width="8" height="13"/>
<rect x="140" y="1321" width="20" height="4"/>
<polygon points="157,1313 172,1313 174,1330 170,1350 168,1365 165,1380 160,1375 158,1350 155,1330"/>
<rect x="205" y="1314" width="295" height="9"/>
<polygon points="233,1327 260,1325 290,1323 320,1330 318,1345 300,1350 300,1380 285,1382 280,1360 260,1365 240,1360 233,1345"/>
<rect x="317" y="1360" width="116" height="7"/>
<rect x="310" y="1373" width="117" height="7"/>
<rect x="421" y="1313" width="12" height="77"/>
<rect x="433" y="1357" width="67" height="6"/><rect x="433" y="1373" width="67" height="7"/>
<rect x="500" y="1313" width="50" height="12"/><rect x="500" y="1360" width="40" height="7"/>
<polygon points="540,1320 585,1318 583,1345 575,1380 560,1370 548,1375 540,1350"/>
<rect x="583" y="1323" width="100" height="7"/><rect x="583" y="1338" width="100" height="4"/><rect x="583" y="1363" width="100" height="9"/>
<rect x="682" y="1315" width="8" height="40"/><rect x="694" y="1320" width="6" height="30"/>
<rect x="700" y="1313" width="75" height="10"/><rect x="700" y="1330" width="75" height="8"/><rect x="700" y="1357" width="75" height="6"/><rect x="700" y="1370" width="75" height="10"/>
<rect x="31" y="1396" width="744" height="12"/>
<rect x="31" y="1388" width="120" height="8"/><rect x="300" y="1390" width="110" height="6"/><rect x="560" y="1390" width="100" height="6"/>
</g>
<rect x="130" y="1312" width="3" height="96" fill="#fff"/>
<polyline fill="none" stroke="#140000" stroke-width="9" stroke-linejoin="miter" points="31,1316 160,1402 292,1318 422,1402 548,1317 680,1401 775,1342"/>
<line x1="195" y1="1380" x2="212" y2="1369" stroke="#e06020" stroke-width="9"/>
<line x1="448" y1="1385" x2="483" y2="1362" stroke="#f08030" stroke-width="9"/>
<line x1="717" y1="1378" x2="738" y2="1364" stroke="#c04010" stroke-width="9"/>
</g>
<line x1="31" y1="1311.5" x2="775" y2="1311.5" stroke="#808080" stroke-width="1.5"/>

<!-- color strip -->
<g>
<rect x="31" y="1421" width="744" height="20" fill="#000"/>
<rect x="31" y="1421" width="14" height="20" fill="#b02000"/>
<rect x="56" y="1421" width="24" height="20" fill="#8a1000"/><rect x="80" y="1421" width="30" height="20" fill="#a01800"/><rect x="110" y="1421" width="16" height="20" fill="#902000"/><rect x="126" y="1421" width="4" height="20" fill="#c04000"/><rect x="130" y="1421" width="5" height="20" fill="#f07020"/>
<rect x="146" y="1421" width="1" height="20" fill="#fff"/><rect x="158" y="1421" width="2" height="20" fill="#f08030"/><rect x="190" y="1421" width="1" height="20" fill="#f08030"/>
<rect x="222" y="1421" width="18" height="20" fill="#a01800"/><rect x="240" y="1421" width="22" height="20" fill="#901000"/><rect x="262" y="1421" width="8" height="20" fill="#c03000"/><rect x="270" y="1421" width="6" height="20" fill="#f0a040"/>
<rect x="288" y="1421" width="17" height="20" fill="#d03000"/><rect x="303" y="1421" width="1" height="20" fill="#fff"/>
<rect x="315" y="1421" width="25" height="20" fill="#901000"/><rect x="340" y="1421" width="30" height="20" fill="#801000"/><rect x="370" y="1421" width="15" height="20" fill="#a02000"/><rect x="385" y="1421" width="7" height="20" fill="#c03000"/>
<rect x="404" y="1421" width="18" height="20" fill="#e05010"/>
<rect x="445" y="1421" width="2" height="20" fill="#f08030"/>
<rect x="490" y="1421" width="38" height="20" fill="#601000"/><rect x="528" y="1421" width="2" height="20" fill="#f08030"/>
<rect x="540" y="1421" width="23" height="20" fill="#c03000"/>
<rect x="573" y="1421" width="27" height="20" fill="#701000"/><rect x="600" y="1421" width="40" height="20" fill="#801800"/><rect x="640" y="1421" width="10" height="20" fill="#a02000"/><rect x="650" y="1421" width="5" height="20" fill="#f09040"/>
<rect x="660" y="1421" width="25" height="20" fill="#d04010"/>
<rect x="700" y="1421" width="7" height="20" fill="#f07020"/>
<rect x="745" y="1421" width="30" height="20" fill="#701000"/>
</g>

<!-- LOGO -->
<rect x="795" y="1321" width="161" height="107" fill="#fff" stroke="#ffd700" stroke-width="2"/>
<rect x="797.5" y="1323.5" width="156" height="102" fill="none" stroke="#c00000" stroke-width="1"/>
<rect x="799.5" y="1325.5" width="152" height="98" fill="none" stroke="#000" stroke-width="1"/>
<text x="801" y="1356" font-size="34" fill="#000">B</text>
<text x="815" y="1356" font-size="20" fill="#1030c0">R</text>
<text x="826" y="1347" font-size="18" fill="#8a0f2d">A</text>
<text x="834" y="1351" font-size="18" fill="#8a0f2d">G</text>
<text x="800" y="1405" font-size="58" fill="#70a010">R</text>
<text x="818" y="1405" font-size="60" fill="#ff0000">E</text>
<text x="838" y="1405" font-size="78" fill="#e0106a" textLength="34" lengthAdjust="spacingAndGlyphs">S</text>
<text x="857" y="1405" font-size="80" fill="#b030e0">I</text>
<text x="866" y="1405" font-size="100" fill="#70a010" textLength="70" lengthAdjust="spacingAndGlyphs">K</text>
<text transform="translate(951,1400) rotate(-90)" font-size="19" textLength="64" lengthAdjust="spacingAndGlyphs"><tspan fill="#1030c0">SOL</tspan><tspan fill="#000">A</tspan><tspan fill="#8a0f2d">R</tspan></text>
<text x="802" y="1422" font-size="19" fill="#000" textLength="148" lengthAdjust="spacingAndGlyphs">SPECTROMETER</text>
<g font-size="5" fill="#000">
<text x="797" y="1433" textLength="158" lengthAdjust="spacingAndGlyphs">SOLAR SYSTEM DIVISION SPACE RESEARCH CENTRE POLISH ACADEMY OF SCIENCES WROCLAW</text>
<text x="797" y="1438" textLength="158" lengthAdjust="spacingAndGlyphs">MULLARD SPACE SCIENCE LABORATORY RUTHERFORD APPLETON LABORATORY UNITED KINGDOM</text>
<text x="797" y="1443" textLength="158" lengthAdjust="spacingAndGlyphs">NAVAL RESEARCH LABORATORY WASHINGTON IZMIRAN TROITSK RUSSIAN ACADEMY SCIENCES</text>
</g>

<text x="420" y="1467" font-size="15" fill="#000" textLength="201" lengthAdjust="spacingAndGlyphs">Run on Tue Dec 17 08:31:10 2002</text>
</svg>
</body></html>
